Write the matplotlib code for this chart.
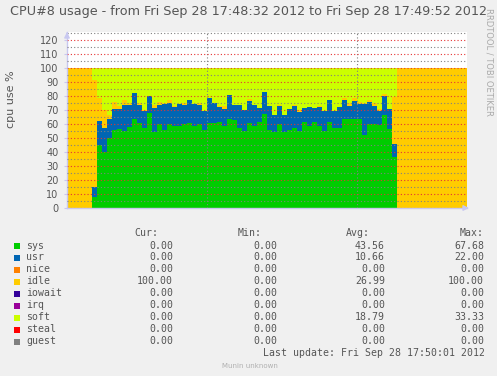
import numpy as np
import matplotlib
matplotlib.use('Agg')
import matplotlib.pyplot as plt

# munin cpu graph, one sample per second from 17:48:32
n_idle_before = 5
n_idle_after = 14

sys_ = [7.9, 44.9, 40.0, 50.0, 55.6, 56.3, 55.0, 58.0, 64.0, 61.0, 57.0, 67.7,
        54.4, 60.0, 55.8, 60.0, 59.0, 58.7, 60.0, 61.0, 58.7, 60.4, 55.8, 60.6,
        60.6, 61.8, 58.5, 63.5, 63.0, 57.5, 55.0, 60.6, 58.5, 61.8, 67.0, 56.0,
        54.4, 60.0, 54.4, 55.6, 57.0, 55.1, 61.3, 58.7, 61.3, 58.7, 55.1, 61.3,
        57.5, 57.5, 63.5, 63.5, 63.5, 63.5, 52.2, 60.0, 60.0, 59.2, 66.3, 56.3,
        36.5]
usr = [7.1, 17.1, 17.0, 14.0, 15.4, 14.7, 18.5, 15.5, 18.3, 13.0, 12.5, 12.3,
       17.0, 13.7, 18.9, 15.0, 13.3, 15.5, 13.7, 16.0, 15.5, 13.3, 13.4, 17.9,
       14.4, 10.7, 12.5, 17.2, 10.5, 16.0, 15.0, 15.8, 15.5, 9.8, 15.8, 16.8,
       12.3, 12.8, 12.3, 15.3, 15.8, 13.9, 10.1, 13.3, 10.3, 13.6, 14.4, 15.7,
       12.0, 14.8, 13.8, 9.8, 13.1, 11.2, 22.0, 15.7, 13.3, 10.3, 13.9, 14.6,
       9.1]
idle = [76.4, 16.8, 13.0, 2.7, 5.0, 1.8, 3.5, 1.5, 0.0, 1.0, 0.9, 0.0,
        2.4, 2.2, 0.8, 2.3, 0.5, 0.0, 1.5, 0.0, 0.0, 1.5, 0.0, 0.0,
        0.0, 0.5, 2.3, 0.0, 0.0, 0.0, 0.0, 1.6, 0.0, 0.0, 0.5, 0.0,
        0.0, 1.2, 0.0, 0.0, 0.7, 1.2, 0.0, 0.0, 0.0, 0.7, 0.0, 0.0,
        0.0, 0.0, 1.7, 1.7, 1.9, 1.4, 1.2, 1.4, 1.7, 1.1, 1.2, 0.0,
        34.1]
soft = [8.6, 21.2, 30.0, 33.3, 24.0, 27.2, 23.0, 25.0, 17.7, 25.0, 29.6, 20.0,
        26.2, 24.1, 24.5, 22.7, 27.2, 25.8, 24.8, 23.0, 25.8, 24.8, 30.8, 21.5,
        25.0, 27.0, 26.7, 19.3, 26.5, 26.5, 30.0, 22.0, 26.0, 28.4, 16.7, 27.2,
        33.3, 26.0, 33.3, 29.1, 26.5, 29.8, 28.6, 28.0, 28.4, 27.0, 30.5, 23.0,
        30.5, 27.7, 21.0, 25.0, 21.5, 23.9, 24.6, 22.9, 25.0, 29.4, 18.6, 29.1,
        20.3]

names = ['sys', 'usr', 'nice', 'idle', 'iowait', 'irq', 'soft', 'steal', 'guest']
colors = ['#00CC00', '#0066B3', '#FF8000', '#FFCC00', '#330099', '#990099',
          '#CCFF00', '#FF0000', '#808080']
cur = ['0.00', '0.00', '0.00', '100.00', '0.00', '0.00', '0.00', '0.00', '0.00']
mins = ['0.00'] * 9
avgs = ['43.56', '10.66', '0.00', '26.99', '0.00', '0.00', '18.79', '0.00', '0.00']
maxs = ['67.68', '22.00', '0.00', '100.00', '0.00', '0.00', '33.33', '0.00', '0.00']

title = 'CPU#8 usage - from Fri Sep 28 17:48:32 2012 to Fri Sep 28 17:49:52 2012'

# full series incl. the idle only parts
pad0 = [0.0] * n_idle_before
pad1 = [0.0] * n_idle_after
series = {
    'sys': pad0 + sys_ + pad1,
    'usr': pad0 + usr + pad1,
    'idle': [100.0] * n_idle_before + idle + [100.0] * n_idle_after,
    'soft': pad0 + soft + pad1,
}
nsteps = len(series['sys'])
t = np.arange(nsteps + 1)

W, H = 497, 376
fig = plt.figure(figsize=(W / 100, H / 100), dpi=100, facecolor='#F0F0F0')
left, right, top, bottom = 67, 467, 32, 208
ax = fig.add_axes([left / W, 1 - bottom / H, (right - left) / W, (bottom - top) / H])
ax.set_facecolor('white')

base = np.zeros(nsteps + 1)
for name in ['sys', 'usr', 'idle', 'soft']:
    v = np.array(series[name] + [series[name][-1]])
    ax.fill_between(t, base, base + v, step='post', color=colors[names.index(name)],
                    linewidth=0, zorder=1)
    base = base + v

ax.set_xlim(0, nsteps)
ax.set_ylim(0, 126)
ax.set_yticks(np.arange(0, 121, 10))
ax.set_yticks(np.arange(5, 126, 10), minor=True)
ax.set_xticks([28, 58])
ax.set_xticklabels([])
ax.grid(True, which='major', axis='y', color=(0.9, 0.2, 0.2, 0.25), linestyle=(0, (1, 2)), linewidth=0.8, zorder=3)
ax.grid(True, which='minor', axis='y', color=(0.5, 0.5, 0.5, 0.22), linestyle=(0, (1, 2)), linewidth=0.8, zorder=3)
ax.grid(True, which='major', axis='x', color=(0.5, 0.5, 0.5, 0.3), linestyle=(0, (1, 2)), linewidth=0.8, zorder=3)
ax.set_axisbelow(False)
ax.tick_params(axis='y', which='major', length=2, color='#c8c8f0', labelsize=7, labelcolor='#555555', pad=4)
ax.tick_params(axis='y', which='minor', length=0)
ax.tick_params(axis='x', length=0)
for s in ['top', 'right']:
    ax.spines[s].set_visible(False)
for s in ['left', 'bottom']:
    ax.spines[s].set_color('#c8c8f0')
    ax.spines[s].set_linewidth(1)
ax.annotate('', xy=(1.012, 0), xytext=(0.99, 0), xycoords='axes fraction',
            arrowprops=dict(arrowstyle='-|>', color='#c8c8f0', lw=1, mutation_scale=8))
ax.annotate('', xy=(0, 1.0), xytext=(0, 0.97), xycoords='axes fraction',
            arrowprops=dict(arrowstyle='-|>', color='#c8c8f0', lw=1, mutation_scale=8))
ax.set_ylabel('cpu use %', fontsize=8, color='#555555')
ax.yaxis.set_label_coords(-0.128, 0.62)

def fx(x):
    return x / W

def fy(y):
    return 1 - y / H

fig.text(0.5, fy(12), title, ha='center', va='center', fontsize=9.2, color='#555555')
fig.text(fx(489), fy(62), 'RRDTOOL / TOBI OETIKER', rotation=270, ha='center', va='center',
         fontsize=6, color='#aaaaaa')

mono = 'DejaVu Sans Mono'
fs = 7.1
tc = '#555555'
fig.text(fx(158), fy(233), 'Cur:', ha='right', va='center', family=mono, fontsize=fs, color=tc)
fig.text(fx(262), fy(233), 'Min:', ha='right', va='center', family=mono, fontsize=fs, color=tc)
fig.text(fx(370), fy(233), 'Avg:', ha='right', va='center', family=mono, fontsize=fs, color=tc)
fig.text(fx(484), fy(233), 'Max:', ha='right', va='center', family=mono, fontsize=fs, color=tc)
for i, nm in enumerate(names):
    y = 245.5 + 12 * i
    fig.patches.append(plt.Rectangle((fx(14), fy(y + 3)), 6 / W, 6 / H, transform=fig.transFigure,
                                     facecolor=colors[i], edgecolor='none'))
    fig.text(fx(26), fy(y), nm, ha='left', va='center', family=mono, fontsize=fs, color=tc)
    fig.text(fx(173), fy(y), cur[i], ha='right', va='center', family=mono, fontsize=fs, color=tc)
    fig.text(fx(277), fy(y), mins[i], ha='right', va='center', family=mono, fontsize=fs, color=tc)
    fig.text(fx(385), fy(y), avgs[i], ha='right', va='center', family=mono, fontsize=fs, color=tc)
    fig.text(fx(484), fy(y), maxs[i], ha='right', va='center', family=mono, fontsize=fs, color=tc)

fig.text(fx(485), fy(353), 'Last update: Fri Sep 28 17:50:01 2012', ha='right', va='center',
         family=mono, fontsize=fs, color=tc)
fig.text(fx(250), fy(366), 'Munin unknown', ha='center', va='center', fontsize=5, color='#b0b0b0')

fig.savefig('out.png', dpi=100, facecolor=fig.get_facecolor())
